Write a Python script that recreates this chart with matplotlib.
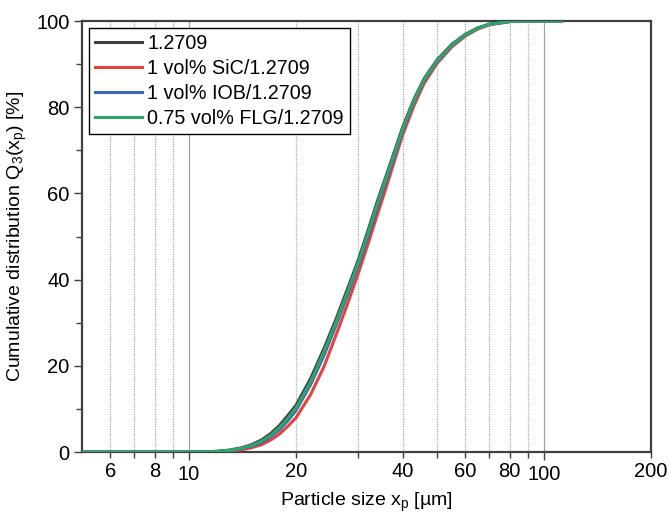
import matplotlib
matplotlib.use('Agg')
import matplotlib.pyplot as plt
import matplotlib.ticker as ticker

plt.rcParams['font.family'] = ['Liberation Sans', 'DejaVu Sans']
plt.rcParams['mathtext.default'] = 'regular'

# particle size [um] and cumulative distribution Q3 [%]
size_um = [5, 10, 11, 12, 13, 14, 15, 16, 17, 18, 19, 20, 22, 24, 26, 28, 30, 32,
           34, 36, 38, 40, 43, 46, 50, 55, 60, 65, 70, 80, 90, 112]
q3_ref = [0, 0, 0.05, 0.18, 0.45, 0.95, 1.7, 2.8, 4.3, 6.2, 8.5, 10.8, 17.0, 24.0,
          31.0, 38.0, 44.6, 51.6, 58.4, 64.3, 70.0, 75.4, 81.8, 86.7, 91.0, 94.6,
          96.9, 98.4, 99.25, 99.9, 100, 100]
q3_sic = [0, 0, 0.01, 0.05, 0.2, 0.5, 1.0, 1.7, 2.8, 4.2, 6.0, 7.9, 13.3, 19.8,
          27.3, 34.5, 41.5, 48.5, 55.3, 61.6, 67.8, 73.6, 80.3, 85.6, 90.2, 94.0,
          96.5, 98.1, 99.1, 99.85, 100, 100]
q3_iob = [0, 0, 0.03, 0.12, 0.35, 0.75, 1.35, 2.2, 3.6, 5.2, 7.3, 9.6, 15.6, 22.4,
          29.6, 36.6, 43.3, 50.2, 57.0, 63.1, 68.9, 74.6, 81.2, 86.3, 90.6, 94.3,
          96.7, 98.3, 99.2, 99.9, 100, 100]
q3_flg = [0, 0, 0.04, 0.15, 0.4, 0.85, 1.5, 2.5, 3.9, 5.7, 7.9, 10.2, 16.2, 23.3,
          30.3, 37.3, 44.0, 51.0, 57.8, 63.8, 69.5, 75.0, 81.5, 86.5, 90.8, 94.4,
          96.8, 98.3, 99.2, 99.9, 100, 100]

labels = ['1.2709', '1 vol% SiC/1.2709', '1 vol% IOB/1.2709', '0.75 vol% FLG/1.2709']
colors = ['#404040', '#e8403c', '#3a68b8', '#2ea66a']

x_ticklabels = [6, 8, 10, 20, 40, 60, 80, 100, 200]

fig = plt.figure(figsize=(6.69, 5.19), dpi=100)
ax = fig.add_axes([0.1226, 0.129, 0.8504, 0.8305])

for q, lab, c in zip([q3_ref, q3_sic, q3_iob, q3_flg], labels, colors):
    ax.plot(size_um, q, color=c, lw=2.2, label=lab, zorder=3)

ax.set_xscale('log')
ax.set_xlim(5, 200)
ax.set_ylim(0, 100)

ax.xaxis.set_major_locator(ticker.FixedLocator([10, 100]))
ax.xaxis.set_minor_locator(ticker.FixedLocator([6, 7, 8, 9, 20, 30, 40, 50, 60, 70, 80, 90, 200]))
ax.xaxis.set_major_formatter(ticker.FuncFormatter(
    lambda v, p: str(int(v)) if int(round(v)) in x_ticklabels else ''))
ax.xaxis.set_minor_formatter(ticker.FuncFormatter(
    lambda v, p: str(int(round(v))) if int(round(v)) in x_ticklabels else ''))

ax.yaxis.set_major_locator(ticker.MultipleLocator(20))
ax.yaxis.set_minor_locator(ticker.MultipleLocator(10))

ax.grid(True, which='major', axis='x', color='#a0a0a0', lw=0.9, ls='-')
ax.grid(True, which='minor', axis='x', color='#a8a8a8', lw=0.9, ls=(0, (1, 1)))
ax.set_axisbelow(True)

for s in ax.spines.values():
    s.set_color('#404040')
    s.set_linewidth(1.6)

ax.tick_params(axis='both', which='both', direction='out', color='#404040',
               labelsize=14.5, width=1.0, pad=3)
ax.tick_params(axis='both', which='major', length=6)
ax.tick_params(axis='both', which='minor', length=4)

ax.set_xlabel('Particle size x$_p$ [µm]', fontsize=14, labelpad=5)
ax.set_ylabel('Cumulative distribution Q$_3$(x$_p$) [%]', fontsize=14, labelpad=5)

leg = ax.legend(loc='upper left', fontsize=14.2, frameon=True, fancybox=False,
                edgecolor='black', framealpha=1, borderaxespad=0.35,
                handlelength=2.4, handletextpad=0.25, labelspacing=0.3,
                borderpad=0.3)
leg.get_frame().set_linewidth(1.0)

plt.savefig('out.png', dpi=100)
